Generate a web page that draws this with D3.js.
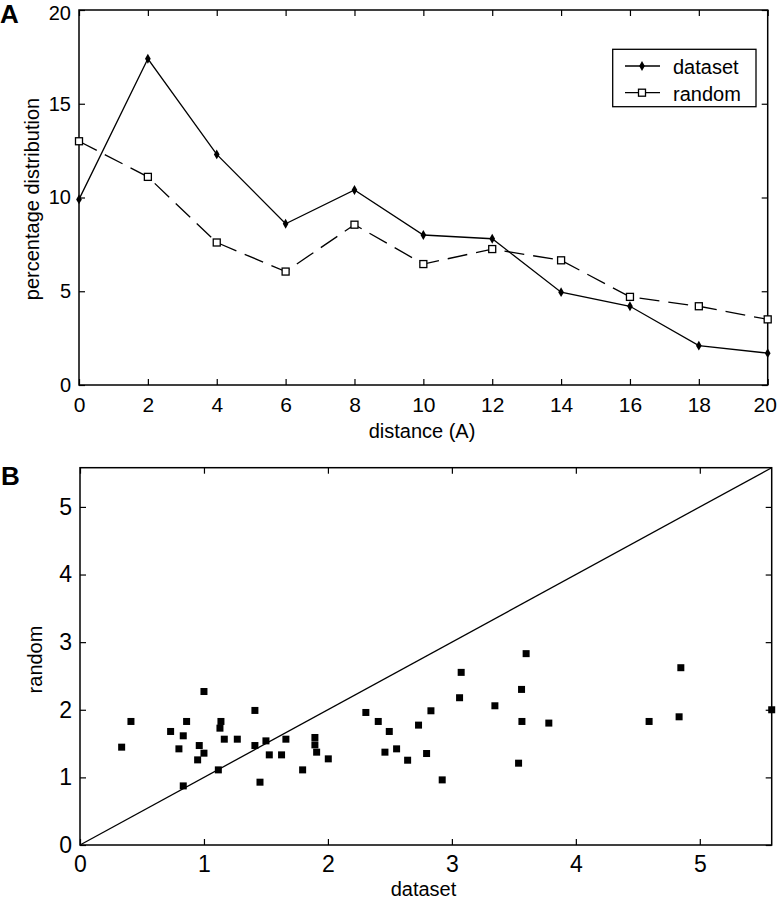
<!DOCTYPE html>
<html>
<head>
<meta charset="utf-8">
<script src="https://cdn.jsdelivr.net/npm/d3@7"></script>
<style>
  html, body { margin: 0; padding: 0; background: #fff; }
  svg { display: block; }
  text { font-family: "Liberation Sans", Arial, sans-serif; fill: #000; }
</style>
</head>
<body>
<svg id="chart" width="778" height="899"></svg>
<script>
// ---------- Panel A data ----------
const distances = [0, 2, 4, 6, 8, 10, 12, 14, 16, 18, 20];
const datasetPct = [9.9, 17.4, 12.3, 8.6, 10.4, 8.0, 7.8, 4.95, 4.2, 2.1, 1.7];
const randomPct  = [13.0, 11.1, 7.6, 6.05, 8.55, 6.45, 7.25, 6.65, 4.7, 4.2, 3.5];
const aXTicks = [0, 2, 4, 6, 8, 10, 12, 14, 16, 18, 20];
const aYTicks = [0, 5, 10, 15, 20];
const legendLabels = ["dataset", "random"];

// ---------- Panel B data ----------
const scatterDataset = [0.336, 0.411, 0.731, 0.798, 0.833, 0.860, 0.833, 1.0, 0.962, 1.0,
  0.949, 1.137, 1.129, 1.164, 1.116, 1.269, 1.411, 1.411, 1.452, 1.5,
  1.527, 1.626, 1.661, 1.796, 1.895, 1.895, 1.909, 2.003, 2.306, 2.406,
  2.495, 2.46, 2.554, 2.643, 2.731, 2.796, 2.831, 2.922, 3.075, 3.062,
  3.347, 3.599, 3.562, 3.565, 3.538, 3.782, 4.591, 4.833, 4.847, 5.58];
const scatterRandom = [1.447, 1.827, 1.679, 1.422, 1.615, 1.827, 0.874, 2.27, 1.471, 1.358,
  1.259, 1.827, 1.728, 1.565, 1.111, 1.565, 1.99, 1.471, 0.929, 1.54,
  1.333, 1.333, 1.565, 1.111, 1.590, 1.481, 1.373, 1.274, 1.96, 1.827,
  1.679, 1.373, 1.422, 1.254, 1.773, 1.353, 1.985, 0.963, 2.553, 2.178,
  2.059, 2.83, 2.301, 1.827, 1.21, 1.803, 1.827, 1.896, 2.622, 2.0];
const bTicks = [0, 1, 2, 3, 4, 5];

const svg = d3.select("#chart");
const fmt = d3.format("d");

// ================= Panel A =================
const aBox = {l: 79, r: 767.7, t: 10, b: 385};
const ax = d3.scaleLinear().domain([0, 20]).range([aBox.l, aBox.r]);
const ay = d3.scaleLinear().domain([0, 20]).range([aBox.b, aBox.t]);
const gA = svg.append("g");

function styleAxis(g, fs) {
  g.select(".domain").remove();
  g.selectAll(".tick line").attr("stroke", "#000").attr("stroke-width", 1.2);
  g.selectAll(".tick text").attr("font-size", fs).attr("font-family", "Liberation Sans, Arial, sans-serif").attr("fill", "#000");
}

gA.append("g").attr("transform", `translate(0,${aBox.b})`)
  .call(d3.axisBottom(ax).tickValues(aXTicks).tickFormat(fmt).tickSizeInner(-6).tickSizeOuter(0).tickPadding(12))
  .call(g => styleAxis(g, 21))
  .call(g => g.selectAll(".tick text").filter(d => d === 20).attr("dx", -3));
gA.append("g").attr("transform", `translate(0,${aBox.t})`)
  .call(d3.axisTop(ax).tickValues(aXTicks).tickSizeInner(-6).tickSizeOuter(0).tickFormat(""))
  .call(g => styleAxis(g, 21));
gA.append("g").attr("transform", `translate(${aBox.l},0)`)
  .call(d3.axisLeft(ay).tickValues(aYTicks).tickFormat(fmt).tickSizeInner(-6).tickSizeOuter(0).tickPadding(8))
  .call(g => styleAxis(g, 20))
  .call(g => g.selectAll(".tick text").filter(d => d === 20).attr("dy", "0.45em"));
gA.append("g").attr("transform", `translate(${aBox.r},0)`)
  .call(d3.axisRight(ay).tickValues(aYTicks).tickSizeInner(-6).tickSizeOuter(0).tickFormat(""))
  .call(g => styleAxis(g, 20));

gA.append("rect").attr("x", aBox.l).attr("y", aBox.t)
  .attr("width", aBox.r - aBox.l).attr("height", aBox.b - aBox.t)
  .attr("fill", "none").attr("stroke", "#000").attr("stroke-width", 1.5);

const lineA = d3.line().x((d, i) => ax(distances[i])).y(d => ay(d));
gA.append("path").datum(randomPct).attr("d", lineA)
  .attr("fill", "none").attr("stroke", "#000").attr("stroke-width", 1.3)
  .attr("stroke-dasharray", "20,9");
gA.append("path").datum(datasetPct).attr("d", lineA)
  .attr("fill", "none").attr("stroke", "#000").attr("stroke-width", 1.3);

const diamond = d3.symbol().type(d3.symbolDiamond).size(28);
gA.selectAll(".dmk").data(datasetPct).enter().append("path")
  .attr("transform", (d, i) => `translate(${ax(distances[i])},${ay(d)})`)
  .attr("d", diamond).attr("fill", "#000");
gA.selectAll(".rmk").data(randomPct).enter().append("rect")
  .attr("x", (d, i) => ax(distances[i]) - 3.5).attr("y", d => ay(d) - 3.5)
  .attr("width", 7).attr("height", 7)
  .attr("fill", "#fff").attr("stroke", "#000").attr("stroke-width", 1.3);

// legend
const lg = gA.append("g");
lg.append("rect").attr("x", 612.7).attr("y", 49.3).attr("width", 143.3).attr("height", 57.4)
  .attr("fill", "#fff").attr("stroke", "#000").attr("stroke-width", 1.3);
const legendY = [66, 92.7];
legendLabels.forEach((lab, i) => {
  lg.append("line").attr("x1", 625).attr("x2", 660).attr("y1", legendY[i]).attr("y2", legendY[i])
    .attr("stroke", "#000").attr("stroke-width", 1.3);
  if (i === 0) {
    lg.append("path").attr("transform", `translate(642,${legendY[i]})`).attr("d", diamond).attr("fill", "#000");
  } else {
    lg.append("rect").attr("x", 638.5).attr("y", legendY[i] - 3.5).attr("width", 7).attr("height", 7)
      .attr("fill", "#fff").attr("stroke", "#000").attr("stroke-width", 1.3);
  }
  lg.append("text").attr("x", 673).attr("y", legendY[i] + 8).attr("font-size", 20).text(lab);
});

// labels
gA.append("text").attr("x", 422).attr("y", 438).attr("text-anchor", "middle").attr("font-size", 20).text("distance (A)");
gA.append("text").attr("transform", "translate(39,199) rotate(-90)").attr("text-anchor", "middle")
  .attr("font-size", 20).text("percentage distribution");
svg.append("text").attr("x", 0).attr("y", 23).attr("font-size", 26).attr("font-weight", "bold").text("A");

// ================= Panel B =================
const bMax = d3.max(scatterDataset);
const bBox = {l: 80, r: 771.7, t: 467.7, b: 845};
const bx = d3.scaleLinear().domain([0, bMax]).range([bBox.l, bBox.r]);
const by = d3.scaleLinear().domain([0, bMax]).range([bBox.b, bBox.t]);
const gB = svg.append("g");

gB.append("g").attr("transform", `translate(0,${bBox.b})`)
  .call(d3.axisBottom(bx).tickValues(bTicks).tickFormat(fmt).tickSizeInner(-6).tickSizeOuter(0).tickPadding(11))
  .call(g => styleAxis(g, 23));
gB.append("g").attr("transform", `translate(0,${bBox.t})`)
  .call(d3.axisTop(bx).tickValues(bTicks).tickSizeInner(-6).tickSizeOuter(0).tickFormat(""))
  .call(g => styleAxis(g, 23));
gB.append("g").attr("transform", `translate(${bBox.l},0)`)
  .call(d3.axisLeft(by).tickValues(bTicks).tickFormat(fmt).tickSizeInner(-6).tickSizeOuter(0).tickPadding(8))
  .call(g => styleAxis(g, 23));
gB.append("g").attr("transform", `translate(${bBox.r},0)`)
  .call(d3.axisRight(by).tickValues(bTicks).tickSizeInner(-6).tickSizeOuter(0).tickFormat(""))
  .call(g => styleAxis(g, 23));

gB.append("rect").attr("x", bBox.l).attr("y", bBox.t)
  .attr("width", bBox.r - bBox.l).attr("height", bBox.b - bBox.t)
  .attr("fill", "none").attr("stroke", "#000").attr("stroke-width", 1.5);

gB.append("line").attr("x1", bx(0)).attr("y1", by(0)).attr("x2", bx(bMax)).attr("y2", by(bMax))
  .attr("stroke", "#000").attr("stroke-width", 1.3);

gB.selectAll(".pt").data(scatterDataset).enter().append("rect")
  .attr("x", d => bx(d) - 3.5).attr("y", (d, i) => by(scatterRandom[i]) - 3.5)
  .attr("width", 7).attr("height", 7).attr("fill", "#000");

gB.append("text").attr("x", 423.5).attr("y", 896).attr("text-anchor", "middle").attr("font-size", 20).text("dataset");
gB.append("text").attr("transform", "translate(42,659.5) rotate(-90)").attr("text-anchor", "middle")
  .attr("font-size", 20).text("random");
svg.append("text").attr("x", 1).attr("y", 485).attr("font-size", 26).attr("font-weight", "bold").text("B");
</script>
</body>
</html>
